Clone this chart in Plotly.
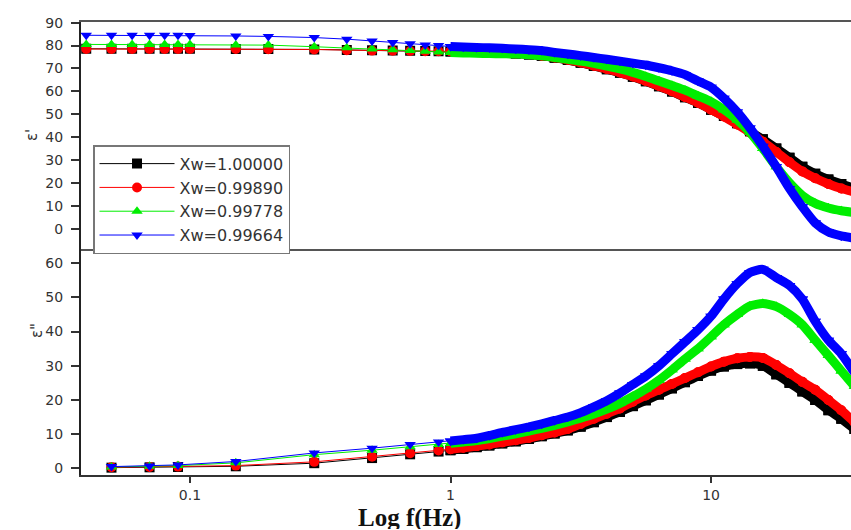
import plotly.graph_objects as go
from plotly.subplots import make_subplots

# ---------------- data ----------------
series_names = ["Xw=1.00000", "Xw=0.99890", "Xw=0.99778", "Xw=0.99664"]
series_colors = ["#000000", "#ff0000", "#00ee00", "#0000ff"]
series_symbols = ["square", "circle", "triangle-up", "triangle-down"]

# frequency (Hz) of the dielectric constant (top panel) points
freq_top = [0.04, 0.05, 0.06, 0.07, 0.08, 0.09, 0.1, 0.15, 0.2, 0.3, 0.4, 0.5, 0.6, 0.7, 0.8, 0.9,
            1.0, 1.12, 1.26, 1.41, 1.58, 1.78, 2.0, 2.24, 2.51, 2.82, 3.16, 3.55, 3.98, 4.47, 5.01,
            5.62, 6.31, 7.08, 7.94, 8.91, 10.0, 11.2, 12.6, 14.1, 15.8, 17.8, 20.0, 22.4, 25.1,
            28.2, 31.6, 35.5]

eps1_xw100000 = [78.6, 78.6, 78.6, 78.6, 78.6, 78.6, 78.6, 78.5, 78.5, 78.3, 78.1, 77.9, 77.8, 77.7, 77.6, 77.5,
                 77.4, 77.3, 77.2, 77.0, 76.8, 76.5, 76.1, 75.5, 74.7, 73.7, 72.5, 71.1, 69.7, 68.1, 66.4,
                 64.4, 62.2, 59.9, 57.4, 54.9, 52.0, 49.2, 46.0, 42.5, 39.0, 35.0, 31.0, 27.0, 24.0,
                 21.5, 19.5, 17.5]
eps1_xw099890 = [78.5, 78.5, 78.5, 78.5, 78.5, 78.5, 78.5, 78.5, 78.4, 78.3, 78.0, 77.8, 77.7, 77.6, 77.5, 77.5,
                 77.5, 77.4, 77.3, 77.1, 76.9, 76.6, 76.2, 75.6, 74.8, 73.8, 72.6, 71.2, 69.8, 68.2, 66.5,
                 64.5, 62.3, 60.0, 57.5, 55.0, 52.0, 49.0, 45.5, 42.0, 38.0, 33.5, 29.0, 25.0, 22.0,
                 19.5, 17.5, 16.0]
eps1_xw099778 = [80.5, 80.5, 80.5, 80.5, 80.5, 80.5, 80.5, 80.3, 80.2, 79.5, 79.0, 78.5, 78.2, 77.8, 77.5, 77.2,
                 77.0, 76.8, 76.6, 76.5, 76.4, 76.3, 76.0, 75.5, 74.8, 74.0, 73.2, 72.2, 71.0, 69.8, 68.3,
                 66.5, 64.5, 62.5, 60.5, 58.0, 55.5, 52.0, 47.5, 42.0, 35.0, 27.0, 20.0, 14.5, 11.0,
                 9.0, 7.8, 7.0]
eps1_xw099664 = [84.5, 84.5, 84.5, 84.5, 84.5, 84.5, 84.4, 84.2, 84.0, 83.5, 82.8, 82.0, 81.3, 80.8, 80.3, 80.0,
                 79.6, 79.4, 79.2, 79.0, 78.8, 78.5, 78.2, 77.8, 77.0, 76.3, 75.6, 74.8, 74.0, 73.2, 72.3,
                 71.5, 70.3, 69.0, 67.3, 64.5, 61.8, 57.0, 51.0, 44.0, 36.0, 27.0, 17.5, 9.5, 2.5,
                 -1.5, -3.2, -4.2]

# frequency (Hz) of the dielectric loss (bottom panel) points
freq_bot = [0.05, 0.07, 0.09, 0.15, 0.3, 0.5, 0.7, 0.9,
            1.0, 1.12, 1.26, 1.41, 1.58, 1.78, 2.0, 2.24, 2.51, 2.82, 3.16, 3.55, 3.98, 4.47, 5.01,
            5.62, 6.31, 7.08, 7.94, 8.91, 10.0, 11.2, 12.6, 14.1, 15.8, 17.8, 20.0, 22.4, 25.1,
            28.2, 31.6, 35.5]

eps2_xw100000 = [0.2, 0.3, 0.4, 0.6, 1.5, 3.0, 4.1, 4.9,
                 5.3, 5.7, 6.2, 6.7, 7.3, 7.9, 8.6, 9.4, 10.2, 11.1, 12.2, 13.5, 15.0, 16.5, 18.2,
                 19.9, 21.6, 23.4, 25.2, 27.0, 28.6, 29.8, 30.5, 30.7, 30.0, 27.5, 25.0, 22.5, 20.0,
                 17.0, 14.5, 11.5]
eps2_xw099890 = [0.3, 0.4, 0.5, 0.8, 1.9, 3.4, 4.4, 5.2,
                 5.6, 6.0, 6.5, 7.0, 7.6, 8.2, 8.9, 9.7, 10.5, 11.5, 13.0, 14.5, 16.0, 17.5, 19.5,
                 21.3, 23.0, 24.7, 26.4, 28.1, 29.8, 31.2, 32.2, 32.6, 32.3, 30.2, 27.8, 25.3, 23.0,
                 20.0, 17.0, 13.5]
eps2_xw099778 = [0.4, 0.6, 0.8, 1.6, 4.0, 5.3, 6.3, 7.0,
                 7.3, 7.7, 8.1, 8.7, 9.4, 10.1, 10.9, 11.7, 12.6, 13.6, 14.7, 15.9, 17.3, 19.0, 21.0,
                 23.2, 25.8, 28.8, 32.0, 35.0, 38.5, 42.0, 45.0, 47.5, 48.2, 47.3, 45.0, 42.0, 37.5,
                 33.0, 28.5, 24.0]
eps2_xw099664 = [0.5, 0.7, 1.0, 2.0, 4.5, 5.9, 7.0, 7.7,
                 8.0, 8.4, 8.8, 9.6, 10.5, 11.3, 12.1, 13.0, 14.0, 15.0, 16.3, 18.0, 19.8, 22.0, 24.5,
                 27.0, 30.0, 33.5, 37.0, 40.5, 44.5, 49.5, 54.0, 57.3, 58.2, 55.8, 53.5, 49.5, 43.0,
                 37.5, 33.5, 28.0]

eps1_series = [eps1_xw100000, eps1_xw099890, eps1_xw099778, eps1_xw099664]
eps2_series = [eps2_xw100000, eps2_xw099890, eps2_xw099778, eps2_xw099664]

top_ticks = [0, 10, 20, 30, 40, 50, 60, 70, 80, 90]
bot_ticks = [0, 10, 20, 30, 40, 50, 60]
x_ticks = [0.1, 1, 10]
x_ticklabels = ["0.1", "1", "10"]

DENSE_FROM = 1.0  # above this frequency the measured points merge into a band

# ---------------- figure ----------------
fig = make_subplots(rows=2, cols=1, shared_xaxes=True, vertical_spacing=0)


def add_series(row, freqs, vals, i, legend):
    color = series_colors[i]
    dx = [f for f in freqs if f >= DENSE_FROM]
    dy = [v for f, v in zip(freqs, vals) if f >= DENSE_FROM]
    fig.add_trace(go.Scatter(
        x=dx, y=dy, mode="lines+markers",
        line=dict(color=color, width=9, shape="spline", smoothing=0.6),
        marker=dict(symbol=series_symbols[i], size=10, color=color),
        showlegend=False, hoverinfo="skip"), row=row, col=1)
    fig.add_trace(go.Scatter(
        x=freqs, y=vals, mode="lines+markers", name=series_names[i],
        line=dict(color=color, width=1),
        marker=dict(symbol=series_symbols[i], size=10, color=color),
        showlegend=legend, legendgroup=series_names[i]), row=row, col=1)


for i in range(4):
    add_series(1, freq_top, eps1_series[i], i, True)
for i in range(4):
    add_series(2, freq_bot, eps2_series[i], i, False)

axis_font = dict(family="DejaVu Sans", size=14, color="#333333")

fig.update_xaxes(type="log", range=[-1.418, 1.537], showgrid=False, zeroline=False,
                 showline=True, linecolor="#555555", linewidth=2,
                 ticks="outside", ticklen=6, tickwidth=1.5, tickcolor="#333333",
                 tickvals=x_ticks, ticktext=x_ticklabels, tickfont=axis_font,
                 ticklabelstandoff=0)
fig.update_xaxes(showticklabels=False, ticks="", mirror=True, row=1, col=1)
fig.update_xaxes(mirror=False, linecolor="#333333", row=2, col=1)

fig.update_yaxes(showgrid=False, zeroline=False, showline=True, linecolor="#222222",
                 linewidth=2, ticks="outside", ticklen=8, tickwidth=1.5, tickcolor="#333333",
                 tickfont=axis_font, ticklabelstandoff=5)
fig.update_yaxes(range=[-8.7, 90.3], tickvals=top_ticks, row=1, col=1)
fig.update_yaxes(range=[-1.95, 64.3], tickvals=bot_ticks, row=2, col=1)

fig.add_annotation(text="ε'", textangle=-90, xref="paper", yref="paper",
                   x=-0.078, y=0.768, showarrow=False,
                   font=dict(family="DejaVu Sans", size=15, color="#333333"))
fig.add_annotation(text='ε"', textangle=-90, xref="paper", yref="paper",
                   x=-0.072, y=0.298, showarrow=False,
                   font=dict(family="DejaVu Sans", size=15, color="#333333"))
fig.add_annotation(text="<b>Log f(Hz)</b>", xref="paper", yref="paper",
                   x=0.426, y=-0.0949, xanchor="center", yanchor="middle", showarrow=False,
                   height=23,
                   font=dict(family="Liberation Serif, Times New Roman, serif", size=25, color="#111111"))

fig.update_layout(
    width=851, height=530,
    margin=dict(l=81, r=0, t=22, b=55),
    paper_bgcolor="white", plot_bgcolor="white",
    showlegend=True,
    legend=dict(x=0.0156, y=0.728, xanchor="left", yanchor="top",
                bordercolor="#777777", borderwidth=1.5, bgcolor="white",
                font=dict(family="DejaVu Sans", size=16, color="#333333"),
                itemwidth=75, tracegroupgap=0),
)

fig.write_html("out.html", config={"displayModeBar": False},
               post_script="document.body.style.margin='0';document.body.style.overflow='hidden';")
